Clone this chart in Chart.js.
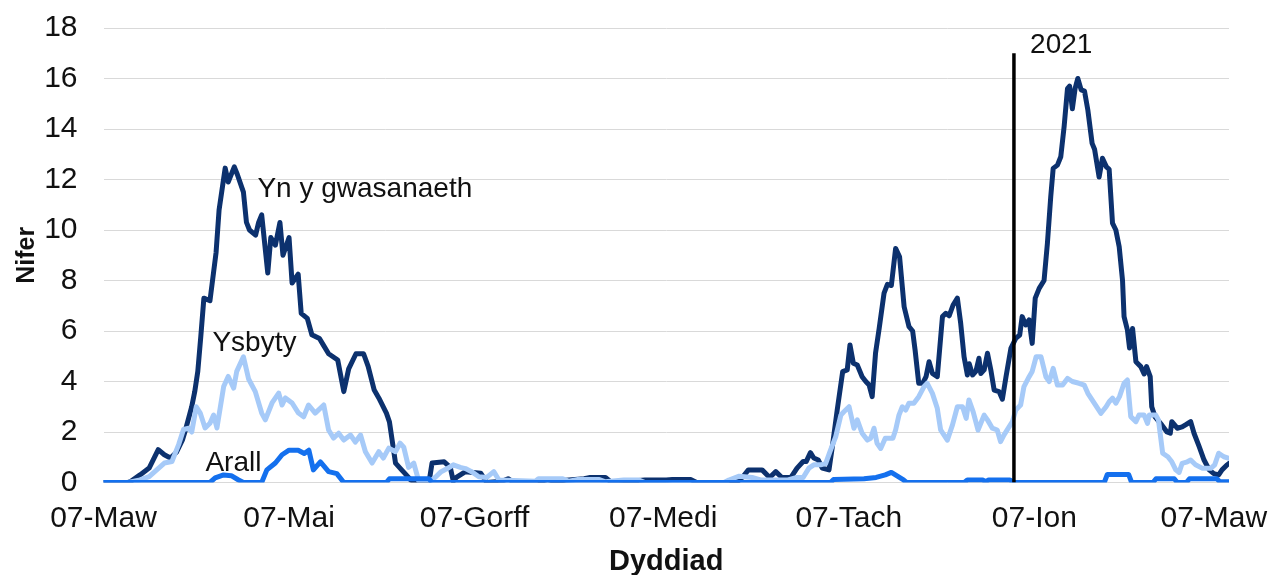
<!DOCTYPE html>
<html>
<head>
<meta charset="utf-8">
<script src="https://cdn.jsdelivr.net/npm/chart.js@4.4.1/dist/chart.umd.min.js"></script>
<style>
  body { margin: 0; background: #fff; }
  #wrap { width: 1269px; height: 575px; }
</style>
</head>
<body>
<div id="wrap"><canvas id="chart" width="1269" height="575"></canvas></div>
<script>
// days counted from 07-Maw 2020
const tickDays = [0, 61, 122, 184, 245, 306, 365];
const tickLabels = ['07-Maw', '07-Mai', '07-Gorff', '07-Medi', '07-Tach', '07-Ion', '07-Maw'];

const gwasanaethDays = [0, 8, 9, 12, 15, 18, 20, 22, 24, 26, 27, 29, 30, 31, 32, 33, 35, 37, 38, 40, 41, 43, 44, 46, 47, 48, 50, 51, 52, 54, 55, 56.5, 58, 59, 61, 62, 64, 65, 67, 68.5, 71, 72, 74, 77, 79, 80.6, 83, 85.5, 87, 89, 90.5, 93, 94, 96, 98, 99, 101, 102.5, 107, 108, 112, 114, 115, 116, 119, 124, 126, 131, 133, 135, 144, 146, 148, 158, 160, 165, 167, 178, 185, 187, 193, 195, 208, 210, 212, 216.5, 219, 221, 223, 226, 228, 230, 231, 232.4, 233.5, 235, 236.3, 238.5, 239.6, 241.2, 243, 244.5, 245.4, 246.5, 247.8, 249.4, 250.6, 251.7, 252.7, 253.8, 255, 256.6, 257.7, 259, 260.4, 261.7, 263.2, 264.8, 266, 266.8, 268, 269.3, 270.4, 271.4, 272.5, 274.1, 275.8, 276.9, 278, 279.3, 280.7, 281.8, 282.9, 284, 284.6, 285.7, 286.8, 287.8, 288.4, 289.5, 290.6, 291.7, 292.8, 294.4, 295.5, 296.7, 298.3, 299.9, 301.2, 302, 303.2, 304.3, 305.3, 306.3, 307.6, 309.2, 310.3, 311.4, 312.2, 313.6, 314.7, 315.8, 316.9, 317.6, 318.5, 319.4, 320.3, 321.4, 322.5, 323.6, 325, 325.8, 327.3, 328.4, 329.7, 330.6, 331.7, 332.8, 333.9, 335, 335.5, 336.6, 337.3, 338.3, 339.4, 341, 342.1, 342.9, 344.1, 344.6, 345.7, 347.9, 349.6, 350.7, 351.2, 353, 354.6, 355.7, 357.4, 358.5, 360.2, 361.8, 363.5, 365, 366.6, 367.7, 369.4, 370];
const gwasanaethVals = [0, 0, 0.05, 0.3, 0.57, 1.3, 1.1, 0.97, 1.2, 1.7, 2.1, 3.0, 3.6, 4.4, 5.8, 7.3, 7.2, 9.1, 10.8, 12.45, 11.9, 12.5, 12.2, 11.5, 10.3, 10.0, 9.8, 10.3, 10.6, 8.3, 9.7, 9.4, 10.3, 9.0, 9.7, 7.9, 8.25, 6.7, 6.5, 5.85, 5.7, 5.5, 5.1, 4.85, 3.6, 4.5, 5.1, 5.1, 4.6, 3.66, 3.35, 2.75, 2.4, 0.77, 0.5, 0.37, 0.1, 0, 0, 0.77, 0.82, 0.6, 0.05, 0.2, 0.43, 0.37, 0, 0.05, 0.15, 0, 0.05, 0.12, 0.05, 0.15, 0.2, 0.2, 0, 0.1, 0.1, 0.12, 0.12, 0, 0, 0.2, 0.5, 0.5, 0.2, 0.43, 0.2, 0.2, 0.57, 0.83, 0.83, 1.18, 0.97, 0.89, 0.57, 0.5, 1.42, 2.87, 4.39, 4.46, 5.45, 4.72, 4.65, 4.19, 4.0, 3.86, 3.4, 5.12, 6.1, 7.5, 7.85, 7.8, 9.27, 8.94, 6.96, 6.17, 6.0, 5.25, 3.93, 3.93, 4.19, 4.78, 4.32, 4.19, 6.57, 6.7, 6.6, 7.03, 7.3, 6.3, 4.98, 4.26, 4.7, 4.26, 4.4, 4.92, 4.32, 4.46, 5.12, 4.46, 3.66, 3.6, 3.3, 4.19, 5.31, 5.71, 5.84, 6.57, 6.24, 6.44, 5.51, 7.3, 7.69, 8.0, 9.47, 11.32, 12.44, 12.57, 12.9, 14.1, 15.6, 15.7, 14.8, 15.6, 16.0, 15.55, 15.5, 14.75, 13.43, 13.2, 12.1, 12.84, 12.5, 12.4, 10.27, 10.0, 9.34, 8.0, 6.57, 6.04, 5.33, 6.1, 4.78, 4.59, 4.3, 4.59, 4.19, 3.0, 2.6, 2.28, 2.0, 1.95, 2.41, 2.15, 2.2, 2.28, 2.41, 1.95, 1.42, 0.89, 0.5, 0.35, 0.3, 0.5, 0.7, 0.76];

const ysbytyDays = [0, 8, 12, 15, 17.5, 20, 22.5, 24.7, 26.3, 28, 29, 30.5, 31.8, 33.4, 35, 36.2, 37.3, 39.5, 41, 42.8, 43.8, 46, 47.7, 49.9, 52, 53.2, 55.4, 57.6, 58.7, 59.8, 62, 64.1, 65.8, 67.4, 69.6, 72.4, 74, 75.6, 77.3, 79, 81.2, 82.8, 84.5, 86.1, 88.3, 90.5, 92, 93.8, 96, 97.5, 98.7, 100.3, 102, 103.6, 107, 109, 111, 113, 115, 117.3, 119, 121, 123.4, 126, 128.3, 130, 142, 143, 151, 153, 156, 163, 165, 171, 176, 178, 204, 205.6, 209, 213.2, 216, 225, 228, 230, 231.9, 233.5, 235.7, 237.4, 239, 240.7, 242.4, 243.4, 245.1, 246.7, 247.8, 249.4, 251.1, 252.2, 253.3, 254.3, 255.5, 257, 259.5, 260.4, 261.5, 262.6, 263.7, 264.8, 266.4, 268, 269.7, 270.8, 272.5, 274.1, 275.2, 277.4, 279.1, 280.7, 282.4, 283.6, 284.5, 285.9, 287.5, 289.5, 290.6, 292.2, 293.8, 294.9, 296, 297.7, 298.8, 299.9, 301.5, 302.6, 304.3, 305.3, 306.6, 308.2, 309.8, 310.9, 312.2, 313.6, 315.3, 316.9, 318.5, 320.7, 322.4, 323.6, 325.7, 327.9, 329.6, 330.6, 331.7, 332.8, 334, 335.5, 336.6, 337.7, 339.4, 340.4, 342.1, 343.2, 343.8, 345.9, 346.8, 348.2, 349.9, 351.2, 352.5, 353.6, 354.6, 356.3, 357.4, 359, 361.3, 364, 365.3, 366.6, 368.3, 370];
const ysbytyVals = [0, 0, 0.1, 0.23, 0.5, 0.77, 0.83, 1.5, 2.1, 2.15, 2.0, 3.0, 2.75, 2.16, 2.35, 2.67, 2.16, 3.8, 4.2, 3.74, 4.4, 4.98, 4.1, 3.6, 2.75, 2.48, 3.15, 3.54, 3.07, 3.35, 3.15, 2.75, 2.6, 3.07, 2.75, 3.07, 2.08, 1.76, 1.95, 1.68, 1.88, 1.6, 1.88, 1.22, 0.77, 1.22, 0.97, 1.36, 1.22, 1.56, 1.4, 0.6, 0.77, 0.07, 0, 0.2, 0.43, 0.55, 0.7, 0.6, 0.55, 0.43, 0.23, 0.2, 0.43, 0.1, 0.05, 0.15, 0.15, 0.05, 0.12, 0.12, 0.03, 0.1, 0.1, 0, 0, 0.1, 0.25, 0.2, 0.1, 0.1, 0.2, 0.2, 0.57, 0.7, 0.7, 0.75, 1.28, 1.81, 2.67, 2.8, 3.0, 2.15, 2.48, 1.95, 1.68, 1.75, 2.15, 1.55, 1.35, 1.75, 1.75, 2.08, 2.67, 3.0, 2.87, 3.14, 3.14, 3.4, 3.79, 3.93, 3.53, 2.94, 2.08, 1.68, 2.28, 3.0, 3.0, 2.54, 3.27, 2.8, 2.08, 2.67, 2.48, 2.15, 2.08, 1.62, 1.88, 2.2, 2.41, 2.87, 3.07, 3.8, 4.19, 4.4, 4.98, 4.98, 4.19, 4.0, 4.52, 3.86, 3.86, 4.12, 4.0, 3.93, 3.86, 3.53, 3.14, 2.74, 3.0, 3.2, 3.34, 3.14, 3.4, 3.93, 4.06, 2.61, 2.41, 2.67, 2.67, 2.34, 2.67, 2.67, 2.48, 1.16, 1.02, 0.82, 0.5, 0.4, 0.76, 0.82, 0.89, 0.7, 0.56, 0.56, 0.7, 1.16, 1.02, 0.96];

const arallDays = [0, 35, 36.7, 39.5, 42, 44.4, 46, 52, 53.7, 56.5, 58.7, 61, 64, 66, 67.5, 69, 71.3, 74, 76.7, 79, 93, 94, 107, 108, 239, 240, 250, 254, 257, 259, 261, 263, 264, 283, 284, 289, 290, 291, 298, 299, 329, 330, 337, 338, 345, 346, 352, 353, 356, 357, 366, 367, 370];
const arallVals = [0, 0, 0.18, 0.3, 0.27, 0.1, 0, 0, 0.5, 0.77, 1.1, 1.28, 1.28, 1.15, 1.28, 0.5, 0.82, 0.43, 0.35, 0, 0, 0.15, 0.15, 0, 0, 0.12, 0.15, 0.2, 0.3, 0.4, 0.25, 0.1, 0, 0, 0.1, 0.1, 0.03, 0.1, 0.1, 0, 0, 0.32, 0.32, 0, 0, 0.15, 0.15, 0, 0, 0.15, 0.15, 0.03, 0.03];

const yearLineDay = 299.3;
const yearLineTop = 17;

function pairs(days, vals) {
    return days.map((d, i) => ({ x: d, y: vals[i] }));
}

const FONT = "'Liberation Sans', Arial, sans-serif";

// text labels beside the lines, placed in data units
const notes = [
    { text: 'Yn y gwasanaeth', x: 50.6, y: 11.6 },
    { text: 'Ysbyty', x: 35.8, y: 5.5 },
    { text: 'Arall', x: 33.5, y: 0.77 },
    { text: '2021', x: 304.6, y: 17.3 }
];

const notesPlugin = {
    id: 'notes',
    afterDatasetsDraw(chart) {
        const ctx = chart.ctx;
        const xs = chart.scales.x, ys = chart.scales.y;
        ctx.save();
        ctx.font = '28px ' + FONT;
        ctx.fillStyle = '#111';
        ctx.textAlign = 'left';
        ctx.textBaseline = 'middle';
        notes.forEach(n => ctx.fillText(n.text, xs.getPixelForValue(n.x), ys.getPixelForValue(n.y)));
        ctx.restore();
    }
};

const lineStyle = { pointRadius: 0, borderWidth: 5, tension: 0, fill: false, borderJoinStyle: 'round', borderCapStyle: 'round' };

new Chart(document.getElementById('chart'), {
    type: 'line',
    data: {
        datasets: [
            Object.assign({ label: 'Yn y gwasanaeth', data: pairs(gwasanaethDays, gwasanaethVals), borderColor: '#0c316e', order: 3 }, lineStyle),
            Object.assign({ label: 'Ysbyty', data: pairs(ysbytyDays, ysbytyVals), borderColor: '#a6caf8', order: 2 }, lineStyle),
            Object.assign({ label: 'Arall', data: pairs(arallDays, arallVals), borderColor: '#1470ee', order: 1 }, lineStyle),
            Object.assign({}, lineStyle, { label: '2021', data: [{ x: yearLineDay, y: 0 }, { x: yearLineDay, y: yearLineTop }], borderColor: '#000', borderWidth: 3.5, borderCapStyle: 'butt', order: 0 })
        ]
    },
    options: {
        responsive: false,
        animation: false,
        layout: { padding: { top: 28, right: 40, bottom: 0, left: 0 } },
        plugins: { legend: { display: false }, tooltip: { enabled: false } },
        scales: {
            x: {
                type: 'linear',
                min: 0,
                max: 370,
                afterBuildTicks: scale => { scale.ticks = tickDays.map(v => ({ value: v })); },
                afterFit: scale => { scale.height = 92.5; scale.paddingLeft = 0; scale.paddingRight = 0; },
                grid: { display: false, drawTicks: false },
                border: { display: false },
                ticks: {
                    autoSkip: false,
                    maxRotation: 0,
                    padding: 18,
                    color: '#111',
                    font: { family: FONT, size: 30 },
                    callback: (value) => tickLabels[tickDays.indexOf(value)]
                },
                title: { display: true, text: 'Dyddiad', color: '#111', font: { family: FONT, size: 29, weight: 'bold' }, padding: { top: 0, bottom: -4 } }
            },
            y: {
                min: 0,
                max: 18,
                afterFit: scale => { scale.width = 103.5; scale.paddingTop = 0; scale.paddingBottom = 0; },
                grid: { color: '#d9d9d9', lineWidth: 1, drawTicks: false },
                border: { display: false },
                ticks: {
                    stepSize: 2,
                    padding: 26,
                    color: '#111',
                    font: { family: FONT, size: 30 }
                },
                title: { display: true, text: 'Nifer', color: '#111', font: { family: FONT, size: 25, weight: 'bold' }, padding: { top: 12, bottom: 0 } }
            }
        }
    },
    plugins: [notesPlugin]
});
</script>
</body>
</html>
